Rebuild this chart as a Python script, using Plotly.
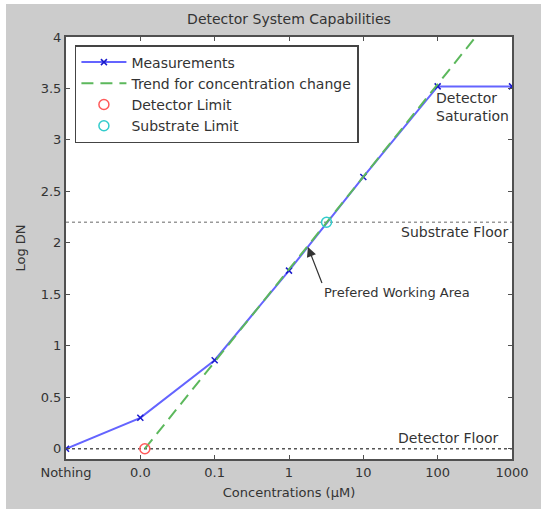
import plotly.graph_objects as go

# ---- data ----
tick_vals = [0.001, 0.01, 0.1, 1, 10, 100, 1000]
tick_text = ["Nothing", "0.0", "0.1", "1", "10", "100", "1000"]

meas_x = [0.001, 0.01, 0.1, 1, 10, 100, 1000]
meas_y = [0.0, 0.30, 0.86, 1.73, 2.64, 3.52, 3.52]

trend_x = [0.0115, 324]
trend_y = [0.0, 4.0]

det_limit_x = [0.0115]
det_limit_y = [0.0]
sub_limit_x = [3.2]
sub_limit_y = [2.2]

detector_floor = 0.0
substrate_floor = 2.2

y_ticks = [0, 0.5, 1, 1.5, 2, 2.5, 3, 3.5, 4]
y_tick_text = ["0", "0.5", "1", "1.5", "2", "2.5", "3", "3.5", "4"]

FONT = "DejaVu Sans, Verdana, sans-serif"
TXT = "#333333"

fig = go.Figure()

fig.add_trace(go.Scatter(
    x=meas_x, y=meas_y, mode="lines+markers", name="Measurements",
    line=dict(color="#6464ff", width=2),
    marker=dict(symbol="x-thin", size=6, line=dict(color="#1a1acc", width=1.5), color="#1a1acc"),
))
fig.add_trace(go.Scatter(
    x=trend_x, y=trend_y, mode="lines", name="Trend for concentration change",
    line=dict(color="#5cb85c", width=2, dash="12px,7px"),
))
fig.add_trace(go.Scatter(
    x=det_limit_x, y=det_limit_y, mode="markers", name="Detector Limit",
    marker=dict(symbol="circle-open", size=10, line=dict(color="#ff5a5a", width=1.5), color="#ff5a5a"),
))
fig.add_trace(go.Scatter(
    x=sub_limit_x, y=sub_limit_y, mode="markers", name="Substrate Limit",
    marker=dict(symbol="circle-open", size=10, line=dict(color="#33cccc", width=1.5), color="#33cccc"),
))

# floor lines
fig.add_shape(type="line", xref="paper", yref="y", x0=0, x1=1, y0=detector_floor, y1=detector_floor,
              line=dict(color="#555555", width=1.5, dash="dot"), layer="below")
fig.add_shape(type="line", xref="paper", yref="y", x0=0, x1=1, y0=substrate_floor, y1=substrate_floor,
              line=dict(color="#999999", width=1.5, dash="dot"), layer="below")

# white edge strips of the figure image
for (x0, x1, y0, y1) in [(-0.3, 1.2, 1.078, 1.3), (-0.3, -0.1345, -0.3, 1.3), (-0.3, 1.2, -0.3, -0.1185)]:
    fig.add_shape(type="rect", xref="paper", yref="paper", x0=x0, x1=x1, y0=y0, y1=y1,
                  fillcolor="white", line=dict(width=0), layer="above")

ann_font = dict(family=FONT, size=14, color=TXT)
fig.add_annotation(x=0.976, xref="paper", y=0.10, yref="y", text="Detector Floor",
                   showarrow=False, xanchor="right", yanchor="middle", font=ann_font)
fig.add_annotation(x=0.995, xref="paper", y=2.11, yref="y", text="Substrate Floor",
                   showarrow=False, xanchor="right", yanchor="middle", font=ann_font)
fig.add_annotation(x=2, xref="x", y=3.5, yref="y", text="Detector<br>Saturation",
                   showarrow=False, xanchor="left", yanchor="top", align="left", font=ann_font,
                   xshift=-4)
fig.add_annotation(x=0.255, xref="x", y=1.96, yref="y", text="Prefered Working Area",
                   showarrow=True, ax=14, ay=36, xanchor="left", yanchor="top",
                   arrowhead=2, arrowsize=1.6, arrowwidth=1.2, arrowcolor="#333333",
                   font=dict(family=FONT, size=13, color=TXT))

axis_common = dict(showgrid=False, zeroline=False, showline=True, linecolor="#505050", linewidth=2,
                   mirror="ticks", ticks="inside", ticklen=4, tickcolor="#505050",
                   tickfont=dict(family=FONT, size=13, color=TXT))

fig.update_layout(
    width=541, height=513,
    margin=dict(l=66, r=29, t=37, b=54),
    paper_bgcolor="#cccccc", plot_bgcolor="white",
    title=dict(text="Detector System Capabilities", x=(66 + 223) / 541, xanchor="center",
               y=1 - 19 / 513, yanchor="middle", font=dict(family=FONT, size=14, color=TXT)),
    xaxis=dict(type="log", range=[-3, 3], tickvals=tick_vals, ticktext=tick_text,
               title=dict(text="Concentrations (µM)", font=dict(family=FONT, size=13, color=TXT), standoff=9),
               **axis_common),
    yaxis=dict(range=[-0.1, 4], tickvals=y_ticks, ticktext=y_tick_text,
               title=dict(text="Log DN", font=dict(family=FONT, size=13, color=TXT), standoff=12),
               **axis_common),
    legend=dict(x=0.02, y=0.981, xanchor="left", yanchor="top", bgcolor="white",
                bordercolor="#444444", borderwidth=1.5,
                font=dict(family=FONT, size=14, color=TXT), tracegroupgap=0,
                itemwidth=45),
    showlegend=True,
)

fig.write_html("out.html")
